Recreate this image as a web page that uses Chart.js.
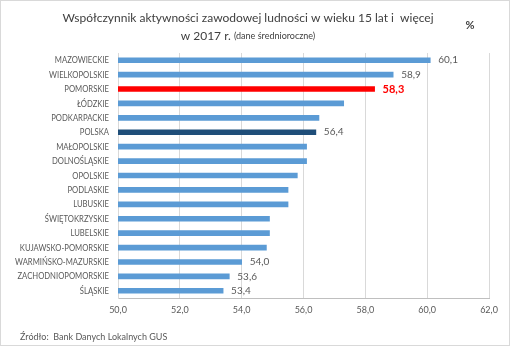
<!DOCTYPE html>
<html>
<head>
<meta charset="utf-8">
<script src="https://cdn.jsdelivr.net/npm/chart.js@4.4.0/dist/chart.umd.min.js"></script>
<style>
  html, body { margin: 0; padding: 0; background: #fff; }
  #wrap { position: relative; width: 508px; height: 344px; border: 1px solid #d9d9d9; }
</style>
</head>
<body>
<div id="wrap"><canvas id="chart" width="508" height="344"></canvas></div>
<script>
// regions, top to bottom
const regions = [
  "MAZOWIECKIE", "WIELKOPOLSKIE", "POMORSKIE", "ŁÓDZKIE", "PODKARPACKIE",
  "POLSKA", "MAŁOPOLSKIE", "DOLNOŚLĄSKIE", "OPOLSKIE", "PODLASKIE",
  "LUBUSKIE", "ŚWIĘTOKRZYSKIE", "LUBELSKIE", "KUJAWSKO-POMORSKIE",
  "WARMIŃSKO-MAZURSKIE", "ZACHODNIOPOMORSKIE", "ŚLĄSKIE"
];
// activity rate, %
const rates = [60.1, 58.9, 58.3, 57.3, 56.5, 56.4, 56.1, 56.1, 55.8, 55.5, 55.5, 54.9, 54.9, 54.8, 54.0, 53.6, 53.4];
// only these bars carry a value label
const labelled = ["MAZOWIECKIE", "WIELKOPOLSKIE", "POMORSKIE", "POLSKA", "WARMIŃSKO-MAZURSKIE", "ZACHODNIOPOMORSKIE", "ŚLĄSKIE"];
const xTicks = [50, 52, 54, 56, 58, 60, 62];

const FONT = "Lato, 'Open Sans', sans-serif";

const barColor = (name) => {
  if (name === "POMORSKIE") return "#ff0000";
  if (name === "POLSKA") return "#1f4e79";
  return "#5b9bd5";
};

const fmt = (v) => v.toFixed(1).replace(".", ",");

// title + footer text
const textPlugin = {
  id: "texts",
  afterDraw(chart) {
    const ctx = chart.ctx;
    ctx.save();
    ctx.fillStyle = "#404040";
    ctx.textBaseline = "middle";
    ctx.textAlign = "center";
    ctx.font = "12px " + FONT;
    ctx.fillText("Współczynnik aktywności zawodowej ludności w wieku 15 lat i  więcej", 247, 17);
    // second line, mixed sizes
    const a = "w 2017 r. ";
    const b = "(dane średnioroczne)";
    ctx.font = "12px " + FONT;
    const wa = ctx.measureText(a).width;
    ctx.font = "9px " + FONT;
    const wb = ctx.measureText(b).width;
    const start = 247 - (wa + wb) / 2;
    ctx.textAlign = "left";
    ctx.font = "12px " + FONT;
    ctx.fillText(a, start, 35);
    ctx.font = "9px " + FONT;
    ctx.fillText(b, start + wa, 35);
    ctx.font = "bold 11px " + FONT;
    ctx.textAlign = "center";
    ctx.fillText("%", 469, 24);
    ctx.font = "9px " + FONT;
    ctx.textAlign = "left";
    ctx.fillStyle = "#595959";
    ctx.fillText("Źródło:  Bank Danych Lokalnych GUS", 19, 336);
    ctx.restore();
  }
};

// category labels, squeezed a bit so the long names fit like the original
const categoryPlugin = {
  id: "categories",
  afterDraw(chart) {
    const ctx = chart.ctx;
    const y = chart.scales.y;
    ctx.save();
    ctx.font = "9.5px " + FONT;
    const widest = Math.max(...regions.map((r) => ctx.measureText(r).width));
    const squeeze = Math.min(1, 94 / widest);
    const right = y.right - 9;
    ctx.fillStyle = "#595959";
    ctx.textAlign = "right";
    ctx.textBaseline = "middle";
    regions.forEach((r, i) => {
      ctx.save();
      ctx.translate(right, y.getPixelForTick(i));
      ctx.scale(squeeze, 1);
      ctx.fillText(r, 0, 0);
      ctx.restore();
    });
    ctx.restore();
  }
};

// value labels next to selected bars
const valuePlugin = {
  id: "values",
  afterDatasetsDraw(chart) {
    const ctx = chart.ctx;
    const meta = chart.getDatasetMeta(0);
    ctx.save();
    ctx.textBaseline = "middle";
    ctx.textAlign = "left";
    meta.data.forEach((bar, i) => {
      const name = regions[i];
      if (!labelled.includes(name)) return;
      if (name === "POMORSKIE") {
        ctx.fillStyle = "#ff0000";
        ctx.font = "bold 11px " + FONT;
      } else {
        ctx.fillStyle = "#595959";
        ctx.font = "10px " + FONT;
      }
      ctx.fillText(fmt(rates[i]), bar.x + 8, bar.y);
    });
    ctx.restore();
  }
};

new Chart(document.getElementById("chart").getContext("2d"), {
  type: "bar",
  data: {
    labels: regions,
    datasets: [
      {
        data: rates,
        backgroundColor: regions.map(barColor),
        barThickness: 5,
      },
    ],
  },
  options: {
    indexAxis: "y",
    responsive: false,
    animation: false,
    devicePixelRatio: 1,
    layout: { padding: { top: 52, right: 20, bottom: 0, left: 0 } },
    plugins: {
      legend: { display: false },
      tooltip: { enabled: false },
    },
    scales: {
      x: {
        min: 50,
        max: 62,
        afterBuildTicks: (scale) => {
          scale.ticks = xTicks.map((v) => ({ value: v }));
        },
        afterFit: (scale) => {
          scale.height = 47;
        },
        grid: { color: "#d9d9d9", drawTicks: false },
        border: { color: "#bfbfbf" },
        ticks: {
          color: "#595959",
          font: { family: FONT, size: 9 },
          padding: 7,
          maxRotation: 0,
          callback: (v) => fmt(v),
        },
      },
      y: {
        afterFit: (scale) => {
          scale.width = 117;
        },
        grid: { display: false },
        border: { color: "#d9d9d9" },
        ticks: {
          color: "rgba(0,0,0,0)",
          font: { family: FONT, size: 9 },
          padding: 9,
          autoSkip: false,
        },
      },
    },
  },
  plugins: [textPlugin, categoryPlugin, valuePlugin],
});
</script>
</body>
</html>
